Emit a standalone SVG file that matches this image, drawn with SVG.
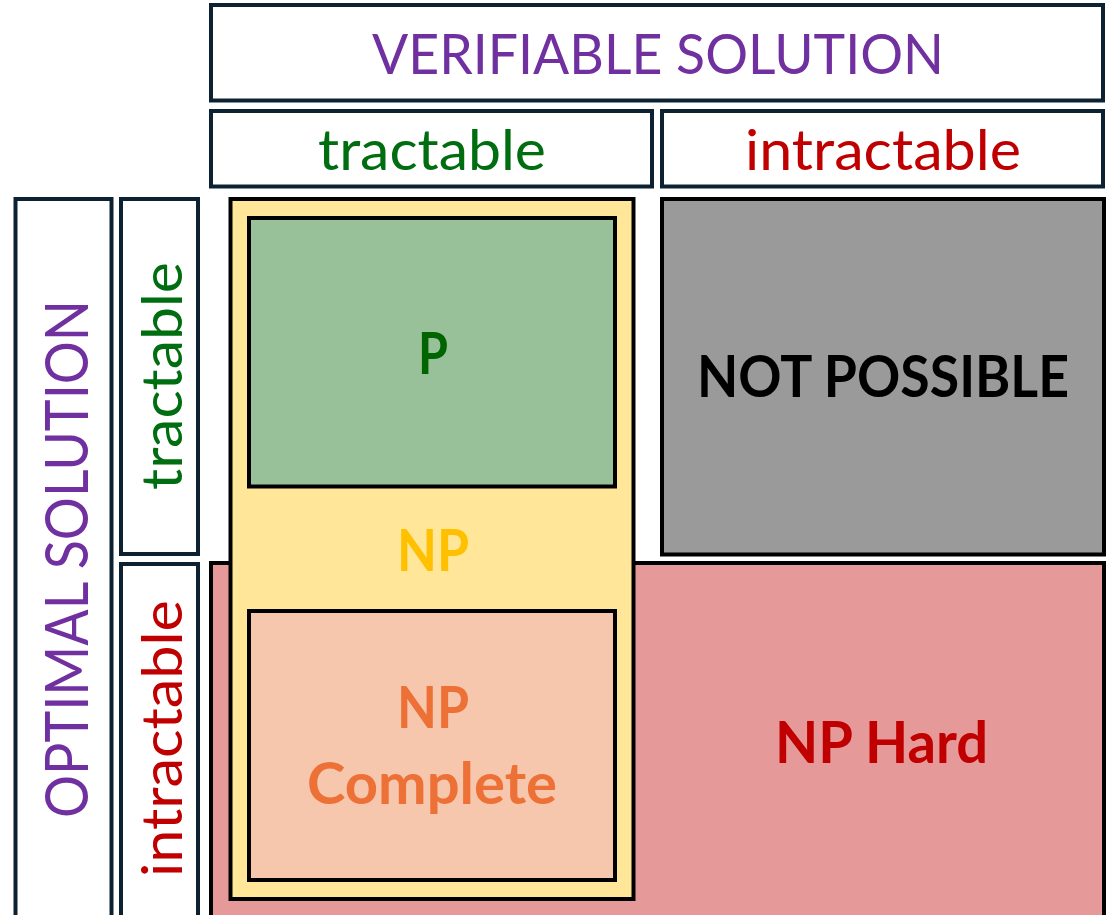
<svg xmlns="http://www.w3.org/2000/svg" width="1109" height="915" viewBox="0 0 1109 915">
  <style>
    .hdr { fill: #ffffff; stroke: #0c2233; stroke-width: 4; }
    .cell { stroke: #000000; stroke-width: 4; }
    .lbl { font-family: Lato, "Open Sans", "Liberation Sans", sans-serif; font-size: 57px; text-anchor: middle; }
    .big { font-family: Lato, "Open Sans", "Liberation Sans", sans-serif; font-size: 57px; font-weight: bold; text-anchor: middle; }
    .purple { fill: #7030a0; }
    .green { fill: #006e10; }
    .red { fill: #c00000; }
  </style>
  <rect width="1109" height="915" fill="#ffffff"/>

  <!-- column headers -->
  <g id="verifiable-header">
    <rect class="hdr" x="211" y="5" width="892" height="95.5"/>
    <text class="lbl purple" x="658" y="74" textLength="572" lengthAdjust="spacingAndGlyphs">VERIFIABLE SOLUTION</text>
  </g>
  <g id="verifiable-tractable">
    <rect class="hdr" x="211" y="111" width="441" height="75.5"/>
    <text class="lbl green" x="432" y="170" textLength="228" lengthAdjust="spacingAndGlyphs">tractable</text>
  </g>
  <g id="verifiable-intractable">
    <rect class="hdr" x="662" y="111" width="441" height="75.5"/>
    <text class="lbl red" x="883" y="170" textLength="276" lengthAdjust="spacingAndGlyphs">intractable</text>
  </g>

  <!-- row headers -->
  <g id="optimal-header">
    <rect class="hdr" x="15.5" y="199" width="96" height="740"/>
    <text class="lbl purple" transform="translate(88 559) rotate(-90)" x="0" y="0" style="font-size:60px" textLength="518" lengthAdjust="spacingAndGlyphs">OPTIMAL SOLUTION</text>
  </g>
  <g id="optimal-tractable">
    <rect class="hdr" x="121" y="199" width="77" height="355"/>
    <text class="lbl green" transform="translate(182 376) rotate(-90)" x="0" y="0" textLength="228" lengthAdjust="spacingAndGlyphs">tractable</text>
  </g>
  <g id="optimal-intractable">
    <rect class="hdr" x="121" y="564" width="77" height="380"/>
    <text class="lbl red" transform="translate(182 738.5) rotate(-90)" x="0" y="0" textLength="277" lengthAdjust="spacingAndGlyphs">intractable</text>
  </g>

  <!-- complexity classes -->
  <g id="not-possible">
    <rect class="cell" x="662" y="199" width="442" height="355.5" fill="#9a9a9a"/>
    <text class="big" x="883" y="397" fill="#000000" textLength="372" lengthAdjust="spacingAndGlyphs">NOT POSSIBLE</text>
  </g>
  <g id="np-hard">
    <rect class="cell" x="211" y="563" width="893" height="380" fill="#e59999"/>
    <text class="big red" x="881.5" y="763" textLength="213" lengthAdjust="spacingAndGlyphs">NP Hard</text>
  </g>
  <g id="np">
    <rect class="cell" x="230.5" y="199" width="403" height="700" fill="#ffe699"/>
    <text class="big" x="433" y="571" fill="#ffc000" textLength="72" lengthAdjust="spacingAndGlyphs">NP</text>
  </g>
  <g id="p">
    <rect class="cell" x="249" y="218" width="366" height="268.5" fill="#99c199"/>
    <text class="big" x="433" y="374" fill="#006400" textLength="30" lengthAdjust="spacingAndGlyphs">P</text>
  </g>
  <g id="np-complete">
    <rect class="cell" x="249" y="611" width="366" height="269" fill="#f6c6ad"/>
    <text class="big" x="433" y="728" fill="#ed7136" textLength="72" lengthAdjust="spacingAndGlyphs">NP</text>
    <text class="big" x="432" y="804" fill="#ed7136" textLength="250" lengthAdjust="spacingAndGlyphs">Complete</text>
  </g>

  <!-- no connectors in this diagram -->
  <g id="connectors"/>
</svg>
